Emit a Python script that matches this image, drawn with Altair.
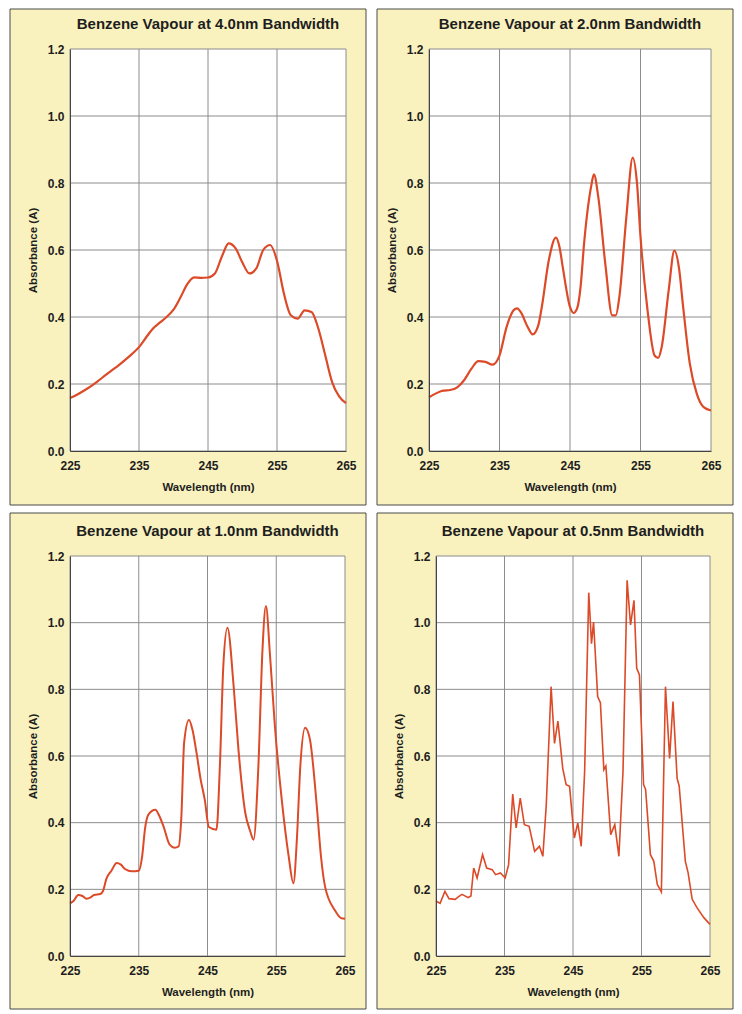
import altair as alt
import pandas as pd

# ---------------- data ----------------
TITLES = [
    "Benzene Vapour at 4.0nm Bandwidth",
    "Benzene Vapour at 2.0nm Bandwidth",
    "Benzene Vapour at 1.0nm Bandwidth",
    "Benzene Vapour at 0.5nm Bandwidth",
]
X_TICKS = [225, 235, 245, 255, 265]
Y_TICKS = [0.0, 0.2, 0.4, 0.6, 0.8, 1.0, 1.2]

wl_40 = [225, 226, 227, 228, 229, 230, 231, 232, 233, 234, 235, 236, 237, 238, 239,
         240, 241, 242, 243, 244, 245, 246, 247, 248, 249, 250, 251, 252, 253, 254,
         255, 256, 257, 258, 259, 260, 261, 262, 263, 264, 265]
ab_40 = [0.158, 0.168, 0.180, 0.193, 0.208, 0.224, 0.240, 0.255, 0.272, 0.290, 0.310,
         0.338, 0.365, 0.383, 0.400, 0.422, 0.458, 0.498, 0.518, 0.517, 0.518, 0.530,
         0.580, 0.620, 0.605, 0.562, 0.530, 0.545, 0.600, 0.615, 0.568, 0.470, 0.405,
         0.395, 0.420, 0.415, 0.365, 0.285, 0.205, 0.163, 0.143]

wl_20 = [225, 226, 227, 228, 229, 230, 231, 232, 233, 234, 235, 236, 237, 237.5, 238,
         239, 239.7, 240.5, 241, 242, 243, 243.5, 244, 245, 245.5, 246, 246.5, 247, 248,
         248.4, 249, 250, 251, 251.5, 252, 253, 253.9, 254.5, 255, 256, 257, 257.5, 258,
         259, 259.8, 260.5, 261, 262, 263, 264, 265]
ab_20 = [0.160, 0.172, 0.180, 0.182, 0.190, 0.212, 0.245, 0.268, 0.266, 0.258, 0.285,
         0.370, 0.420, 0.426, 0.415, 0.370, 0.348, 0.375, 0.430, 0.570, 0.637, 0.610,
         0.545, 0.430, 0.412, 0.425, 0.490, 0.620, 0.790, 0.826, 0.760, 0.560, 0.405,
         0.405, 0.460, 0.700, 0.876, 0.800, 0.640, 0.420, 0.285, 0.278, 0.310, 0.480,
         0.598, 0.540, 0.440, 0.260, 0.170, 0.130, 0.121]

wl_10 = [225, 225.5, 226.2, 226.8, 227.4, 228, 228.5, 229.4, 229.8, 230.3, 231, 231.8,
         232.4, 233, 234, 235, 235.5, 235.9, 236.4, 237.4, 238, 238.6, 239.5, 240.2,
         240.8, 241.2, 241.6, 242.3, 242.8, 243.4, 244, 244.6, 245.2, 246.3, 246.8,
         247.3, 247.9, 248.8, 249.5, 250.5, 251.2, 251.7, 252.4, 253.0, 253.5, 254.1,
         254.8, 255.8, 256.8, 257.5, 258.0, 258.5, 259.2, 259.9, 260.9, 261.5, 262.1,
         263.5, 264.5, 265]
ab_10 = [0.158, 0.165, 0.183, 0.180, 0.172, 0.176, 0.183, 0.186, 0.195, 0.232, 0.255,
         0.279, 0.274, 0.261, 0.254, 0.256, 0.300, 0.380, 0.424, 0.439, 0.420, 0.389,
         0.334, 0.325, 0.329, 0.419, 0.640, 0.708, 0.680, 0.610, 0.530, 0.469, 0.387,
         0.379, 0.569, 0.870, 0.985, 0.810, 0.620, 0.429, 0.375, 0.349, 0.569, 0.920,
         1.050, 0.900, 0.690, 0.469, 0.300, 0.218, 0.350, 0.569, 0.685, 0.650, 0.449,
         0.300, 0.208, 0.138, 0.113, 0.112]

wl_05 = [225, 225.6, 226.3, 226.9, 227.8, 228.3, 228.8, 229.7, 230.1, 230.5, 231.0,
         231.8, 232.4, 233.2, 233.7, 234.4, 235.1, 235.6, 236.2, 236.7, 237.3, 237.9,
         238.6, 239.4, 240.1, 240.6, 241.1, 241.8, 242.3, 242.8, 243.5, 244.0, 244.5,
         245.0, 245.2, 245.7, 246.2, 246.7, 247.3, 247.7, 248.0, 248.6, 249.0, 249.5,
         249.8, 250.5, 251.1, 251.7, 252.3, 252.9, 253.4, 253.9, 254.3, 254.7, 255.3,
         255.6, 256.3, 256.8, 257.3, 257.9, 258.5, 259.1, 259.6, 260.2, 260.5, 261.4,
         261.8, 262.4, 263.1, 264.1, 265]
ab_05 = [0.165, 0.158, 0.194, 0.172, 0.170, 0.178, 0.185, 0.175, 0.180, 0.264, 0.234,
         0.304, 0.264, 0.259, 0.244, 0.249, 0.234, 0.274, 0.486, 0.384, 0.474, 0.394,
         0.389, 0.314, 0.329, 0.299, 0.454, 0.808, 0.638, 0.705, 0.563, 0.514, 0.509,
         0.394, 0.354, 0.399, 0.329, 0.554, 1.090, 0.937, 1.002, 0.778, 0.760, 0.559,
         0.570, 0.364, 0.394, 0.299, 0.554, 1.127, 0.993, 1.067, 0.863, 0.843, 0.514,
         0.500, 0.304, 0.284, 0.215, 0.192, 0.808, 0.593, 0.763, 0.533, 0.510, 0.284,
         0.250, 0.170, 0.145, 0.115, 0.095]

# ---------------- styling ----------------
FONT = "Liberation Sans"
YELLOW = "#f9f2bf"
LINE = "#dc4a28"
GRID = "#8c8c8c"
TXT = "#1e1e1e"


def make_axis(title, values, fmt, label_pad, title_pad):
    return alt.Axis(
        title=title, values=values, format=fmt, zindex=1,
        grid=False, ticks=False, domain=True, domainColor="#444444", domainWidth=1,
        labelFont=FONT, labelFontSize=12, labelFontWeight="bold", labelColor=TXT,
        labelFlush=False, labelOverlap=False, labelPadding=label_pad,
        titleFont=FONT, titleFontSize=11.5, titleFontWeight="bold", titleColor=TXT,
        titlePadding=title_pad,
    )


def panel(title, wl, ab, line_w, interp, W, H, left, right, top, bottom):
    data = pd.DataFrame({"wl": wl, "abs": ab})
    one = pd.DataFrame({"t": [title]})
    xs = alt.Scale(domain=[225, 265], nice=False, zero=False)
    ys = alt.Scale(domain=[0, 1.2], nice=False, zero=True)
    xax = make_axis("Wavelength (nm)", X_TICKS, "d", 9, 10)
    yax = make_axis("Absorbance (A)", Y_TICKS, ".1f", 6, 9)

    frame = alt.Chart(one).mark_rect(fill=YELLOW, stroke="#4a4a4a", strokeWidth=1).encode(
        x=alt.value(-left), x2=alt.value(W + right), y=alt.value(-top), y2=alt.value(H + bottom))
    plot_bg = alt.Chart(one).mark_rect(fill="white").encode(
        x=alt.value(0), x2=alt.value(W), y=alt.value(0), y2=alt.value(H))
    vgrid = alt.Chart(pd.DataFrame({"wl": X_TICKS})).mark_rule(color=GRID, strokeWidth=1).encode(
        x=alt.X("wl:Q", scale=xs, axis=xax))
    hgrid = alt.Chart(pd.DataFrame({"abs": Y_TICKS})).mark_rule(color=GRID, strokeWidth=1).encode(
        y=alt.Y("abs:Q", scale=ys, axis=yax))
    line = alt.Chart(data).mark_line(color=LINE, strokeWidth=line_w, interpolate=interp).encode(
        x=alt.X("wl:Q", scale=xs, axis=xax),
        y=alt.Y("abs:Q", scale=ys, axis=yax))
    ttl = alt.Chart(one).mark_text(font=FONT, fontWeight="bold", fontSize=15, color=TXT,
                                   align="center", baseline="middle").encode(
        x=alt.value(W / 2), y=alt.value(-25), text="t:N")
    return alt.layer(frame, plot_bg, vgrid, hgrid, line, ttl).properties(width=W, height=H)


p1 = panel(TITLES[0], wl_40, ab_40, 2.2, "monotone", 276, 402, 60, 20, 40, 54)
p2 = panel(TITLES[1], wl_20, ab_20, 2.2, "monotone", 282, 402, 52, 22, 40, 54)
p3 = panel(TITLES[2], wl_10, ab_10, 2.0, "monotone", 275, 400, 60, 21, 43, 53)
p4 = panel(TITLES[3], wl_05, ab_05, 1.6, "linear", 274, 400, 59, 23, 43, 53)

chart = alt.vconcat(
    alt.hconcat(p1, p2, spacing=9),
    alt.hconcat(p3, p4, spacing=9),
    spacing=6,
).properties(
    padding={"left": 1, "top": 0, "right": 0, "bottom": 0},
    background="white",
).configure_view(
    strokeWidth=0
)

chart.save("out.html", embed_options={"renderer": "svg", "actions": False})
